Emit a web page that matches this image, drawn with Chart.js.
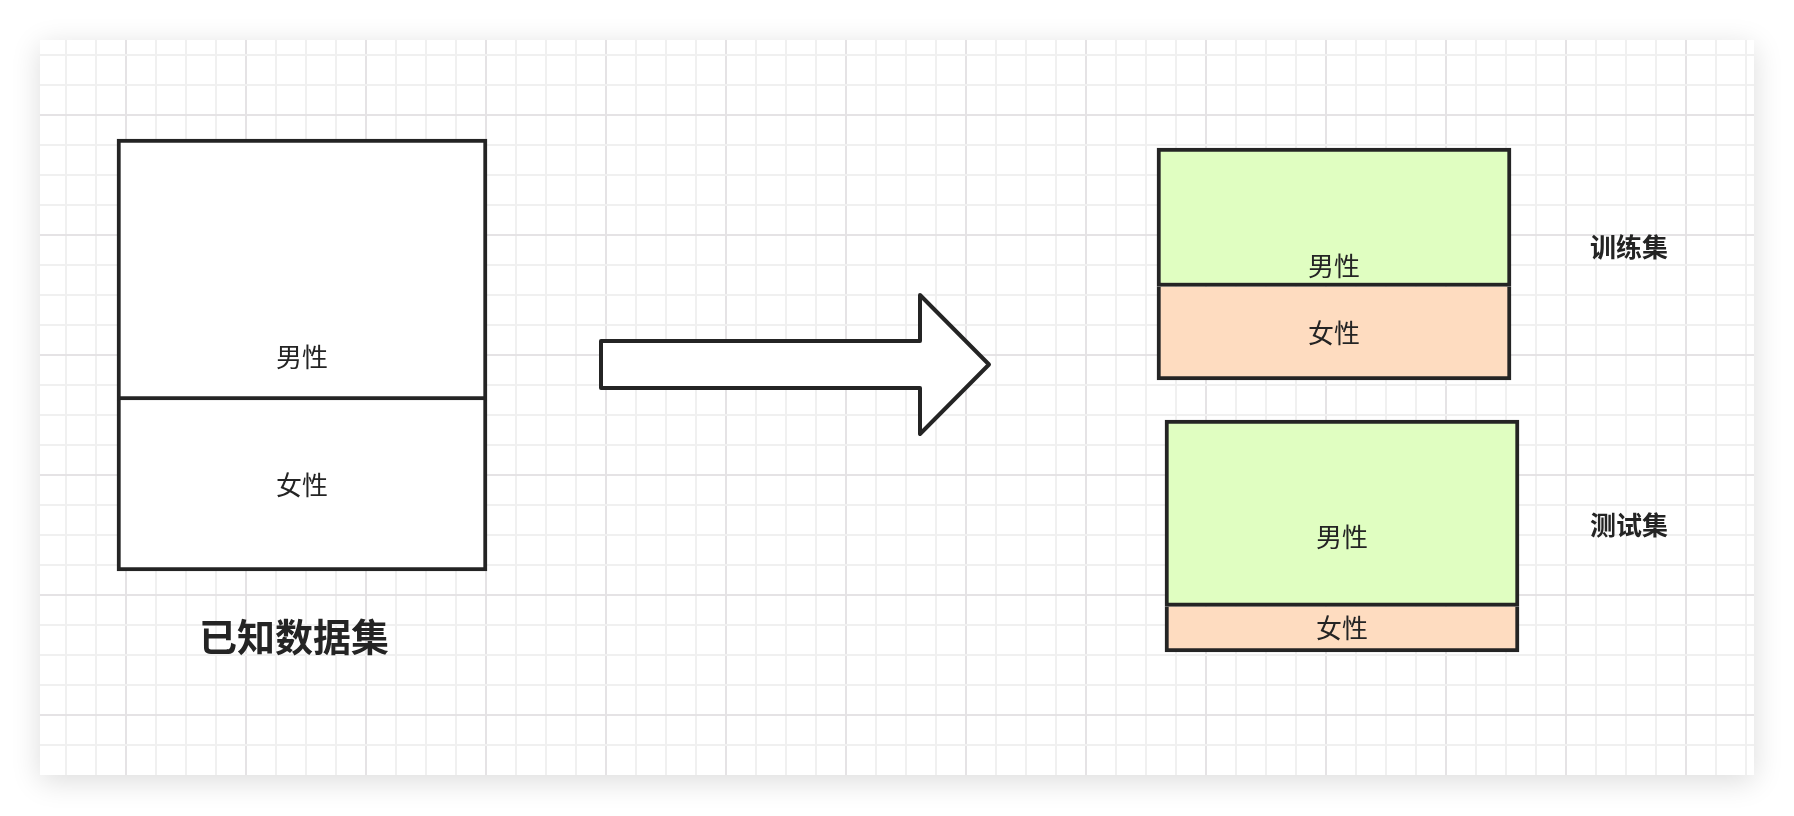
<!DOCTYPE html>
<html>
<head>
<meta charset="utf-8">
<script src="https://cdn.jsdelivr.net/npm/chart.js@4.4.1/dist/chart.umd.min.js"></script>
<style>
html,body{margin:0;padding:0;background:#fff;overflow:hidden;width:1794px;height:816px;}
#card{position:absolute;left:40px;top:40px;width:1714px;height:735px;background:#fff;box-shadow:0 6px 28px rgba(0,0,0,0.14);}
#c{position:absolute;left:0;top:0;}
</style>
</head>
<body>
<div id="card"></div>
<canvas id="c" width="1794" height="816"></canvas>
<script>
// ---- data ----
const groups = ['已知数据集', '训练集', '测试集'];
const segments = ['男性', '女性'];
const maleShare = [60, 59, 80];
const femaleShare = [40, 41, 20];

// ---- layout (pixel units of the drawing surface) ----
const LAYOUT = {
  boxes: [
    { left: 119,  right: 485,  top: 141, bottom: 569, label: { x: 294,  y: 637, size: 38 }, segY: [357, 485] },
    { left: 1159, right: 1509, top: 150, bottom: 378, label: { x: 1629, y: 247, size: 26 }, segY: [266, 333] },
    { left: 1167, right: 1517, top: 422, bottom: 650, label: { x: 1629, y: 525, size: 26 }, segY: [537, 628] }
  ],
  arrow: { x0: 601, x1: 989, cy: 364.5, shaftHalf: 23.5, headHalf: 69.5, headLen: 69 },
  card: { left: 40, right: 1754, top: 40, bottom: 775 },
  grid: { step: 30, major: 120, x0: 6, y0: 115 }
};
const STYLE = {
  stroke: '#242424',
  bw: 4,
  fills: [['#ffffff', '#ffffff'], ['#e0fec1', '#fedcc0'], ['#e0fec1', '#fedcc0']],
  gridMinor: '#f0f0f0',
  gridMajor: '#e5e3e5',
  text: '#242424',
  font: '"Noto Sans CJK SC", "Noto Sans", sans-serif'
};

// ---- build datasets ----
const datasets = [];
groups.forEach((g, i) => {
  const b = LAYOUT.boxes[i];
  const h = b.bottom - b.top;
  const div = b.top + h * maleShare[i] / (maleShare[i] + femaleShare[i]);
  const half = STYLE.bw / 2;
  const cx = (b.left + b.right) / 2;
  datasets.push({
    label: g + segments[0],
    data: [{ x: cx, y: [b.top - half, div + half] }],
    backgroundColor: STYLE.fills[i][0],
    borderColor: STYLE.stroke,
    borderWidth: STYLE.bw,
    borderSkipped: false,
    barThickness: b.right - b.left + STYLE.bw,
    grouped: false
  });
  datasets.push({
    label: g + segments[1],
    data: [{ x: cx, y: [div + half, b.bottom + half] }],
    backgroundColor: STYLE.fills[i][1],
    borderColor: STYLE.stroke,
    borderWidth: { top: 0, left: STYLE.bw, right: STYLE.bw, bottom: STYLE.bw },
    borderSkipped: false,
    barThickness: b.right - b.left + STYLE.bw,
    grouped: false
  });
});

function gridTicks(min, max, origin, step) {
  const out = [];
  let v = origin + Math.ceil((min - origin) / step) * step;
  for (; v < max; v += step) if (v > min) out.push({ value: v });
  return out;
}
function isMajor(v, origin) {
  const M = LAYOUT.grid.major;
  const m = (((v - origin) % M) + M) % M;
  return m < 0.5 || m > M - 0.5;
}
function gridColor(origin) {
  return c => (c && c.tick && typeof c.tick.value === 'number' && isMajor(c.tick.value, origin)) ? STYLE.gridMajor : STYLE.gridMinor;
}

const decor = {
  id: 'decor',
  afterDatasetsDraw(chart) {
    const ctx = chart.ctx;
    const xs = chart.scales.x, ys = chart.scales.y;
    const X = v => xs.getPixelForValue(v), Y = v => ys.getPixelForValue(v);
    const a = LAYOUT.arrow;
    const hx = a.x1 - a.headLen;
    ctx.save();
    ctx.beginPath();
    ctx.moveTo(X(a.x0), Y(a.cy - a.shaftHalf));
    ctx.lineTo(X(hx), Y(a.cy - a.shaftHalf));
    ctx.lineTo(X(hx), Y(a.cy - a.headHalf));
    ctx.lineTo(X(a.x1), Y(a.cy));
    ctx.lineTo(X(hx), Y(a.cy + a.headHalf));
    ctx.lineTo(X(hx), Y(a.cy + a.shaftHalf));
    ctx.lineTo(X(a.x0), Y(a.cy + a.shaftHalf));
    ctx.closePath();
    ctx.fillStyle = '#ffffff';
    ctx.fill();
    ctx.lineWidth = STYLE.bw;
    ctx.lineJoin = 'round';
    ctx.strokeStyle = STYLE.stroke;
    ctx.stroke();
    ctx.fillStyle = STYLE.text;
    ctx.textAlign = 'center';
    ctx.textBaseline = 'middle';
    groups.forEach((g, i) => {
      const b = LAYOUT.boxes[i];
      const cx = (b.left + b.right) / 2;
      ctx.font = '400 26px ' + STYLE.font;
      segments.forEach((s, j) => ctx.fillText(s, X(cx), Y(b.segY[j])));
      ctx.font = '700 ' + b.label.size + 'px ' + STYLE.font;
      ctx.fillText(g, X(b.label.x), Y(b.label.y));
    });
    ctx.restore();
  }
};

new Chart(document.getElementById('c'), {
  type: 'bar',
  data: { datasets },
  options: {
    responsive: false,
    animation: false,
    devicePixelRatio: 1,
    layout: { padding: { left: 40, right: 40, top: 40, bottom: 41 } },
    plugins: { legend: { display: false }, tooltip: { enabled: false } },
    scales: {
      x: {
        type: 'linear', display: true, offset: false,
        min: LAYOUT.card.left, max: LAYOUT.card.right,
        ticks: { display: false },
        border: { display: false },
        afterBuildTicks: s => { s.ticks = gridTicks(LAYOUT.card.left, LAYOUT.card.right, LAYOUT.grid.x0, LAYOUT.grid.step); },
        grid: { offset: false, drawTicks: false, lineWidth: 2, color: gridColor(LAYOUT.grid.x0) }
      },
      y: {
        type: 'linear', display: true, reverse: true, offset: false,
        min: LAYOUT.card.top, max: LAYOUT.card.bottom,
        ticks: { display: false },
        border: { display: false },
        afterBuildTicks: s => { s.ticks = gridTicks(LAYOUT.card.top, LAYOUT.card.bottom, LAYOUT.grid.y0, LAYOUT.grid.step); },
        grid: { offset: false, drawTicks: false, lineWidth: 2, color: gridColor(LAYOUT.grid.y0) }
      }
    }
  },
  plugins: [decor]
});
</script>
</body>
</html>
